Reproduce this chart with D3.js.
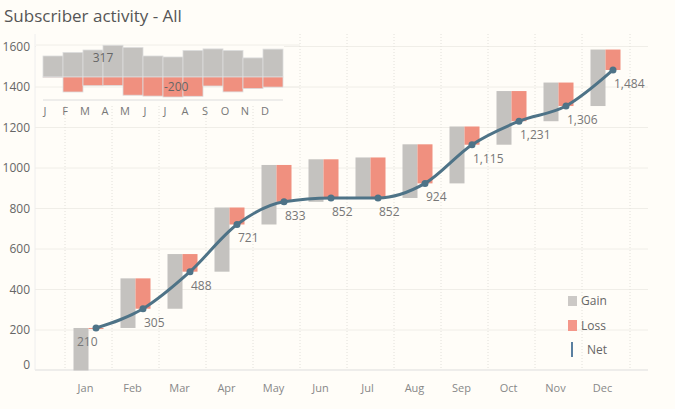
<!DOCTYPE html>
<html><head><meta charset="utf-8">
<script src="https://cdn.jsdelivr.net/npm/d3@7"></script>
<style>body{margin:0;background:#fffdf8}text{font-family:"Open Sans",Lato,sans-serif}</style>
</head><body><svg id="c" width="675" height="409"></svg>
<script>
const months=["Jan","Feb","Mar","Apr","May","Jun","Jul","Aug","Sep","Oct","Nov","Dec"];
const initials=["J","F","M","A","M","J","J","A","S","O","N","D"];
const gains=[210,245,270,317,294,210,200,265,281,265,191,279];
const losses=[2,150,87,84,182,191,200,193,90,149,116,101];
const net=[210,305,488,721,833,852,852,924,1115,1231,1306,1484];
const yTicks=[0,200,400,600,800,1000,1200,1400,1600];
const insetTicks=[1400,1600];

const svg=d3.select("#c");
svg.append("rect").attr("width",675).attr("height",409).attr("fill","#fffdf8");
svg.append("text").attr("x",4).attr("y",22).attr("font-size",17).attr("fill","#555").text("Subscriber activity  - All");

const x=d3.scaleBand().domain(months).range([65,629]).padding(0);
const y=d3.scaleLinear().domain([0,1600]).range([370.5,46.5]);
const g=svg.append("g");
// horizontal grid
g.selectAll(".hg").data(yTicks.filter(d=>d>0)).join("line").attr("x1",35).attr("x2",648)
 .attr("y1",d=>y(d)).attr("y2",d=>y(d)).attr("stroke","#f0eee8");
// vertical dotted grid
g.selectAll(".vg").data(months.concat(["end"])).join("line")
 .attr("x1",d=>d==="end"?630:x(d)).attr("x2",d=>d==="end"?630:x(d)).attr("y1",34).attr("y2",370)
 .attr("stroke","#e2e0da").attr("stroke-dasharray","1,2");
g.append("line").attr("x1",35).attr("x2",648).attr("y1",370).attr("y2",370).attr("stroke","#ddd");
g.append("line").attr("x1",35).attr("x2",35).attr("y1",34).attr("y2",370).attr("stroke","#eee");
// y labels
g.selectAll(".yl").data(yTicks).join("text").attr("x",30).attr("y",d=>d===0?y(d)-6:y(d)).attr("dy","0.35em")
 .attr("text-anchor","end").attr("font-size",12).attr("fill","#666").text(d=>d);
// month labels
g.selectAll(".ml").data(months).join("text").attr("x",d=>x(d)+x.bandwidth()/2-3).attr("y",392)
 .attr("text-anchor","middle").attr("font-size",11).attr("fill","#888").text(d=>d);

const bw=15;
months.forEach((m,i)=>{
  const c=x(m)+x.bandwidth()/2;
  const prev=i===0?0:net[i-1];
  const top=prev+gains[i];
  g.append("rect").attr("x",c-bw).attr("width",bw).attr("y",y(top)).attr("height",y(prev)-y(top)).attr("fill","#c4c2bf");
  g.append("rect").attr("x",c).attr("width",bw).attr("y",y(top)).attr("height",Math.max(1,y(net[i])-y(top))).attr("fill","#f0907f");
});
const px=m=>x(m)+x.bandwidth()/2+bw/2;
const line=d3.line().x((d,i)=>px(months[i])).y(d=>y(d)).curve(d3.curveMonotoneX);
g.append("path").attr("d",line(net)).attr("fill","none").attr("stroke","#4e7387").attr("stroke-width",3);
g.selectAll(".pt").data(net).join("circle").attr("cx",(d,i)=>px(months[i])).attr("cy",d=>y(d)).attr("r",3.5).attr("fill","#4e7387");
g.selectAll(".nl").data(net).join("text").attr("x",(d,i)=>i===0?px(months[i])-19:px(months[i])+1)
 .attr("y",d=>y(d)+18).attr("font-size",12).attr("fill","#777").text(d=>d3.format(",")(d));

// legend
const lg=svg.append("g");
lg.append("rect").attr("x",568).attr("y",296).attr("width",9).attr("height",10).attr("fill","#ccc9c6");
lg.append("text").attr("x",581).attr("y",305).attr("font-size",12).attr("fill","#666").text("Gain");
lg.append("rect").attr("x",568).attr("y",320).attr("width",9).attr("height",11).attr("fill","#f4978a");
lg.append("text").attr("x",581).attr("y",330).attr("font-size",12).attr("fill","#666").text("Loss");
lg.append("line").attr("x1",572).attr("x2",572).attr("y1",342).attr("y2",357).attr("stroke","#5a7fa0").attr("stroke-width",2);
lg.append("text").attr("x",587).attr("y",354).attr("font-size",12).attr("fill","#666").text("Net");

// inset
const ix=d3.scaleBand().domain(d3.range(12)).range([43,283]);
const base=77, k=0.1;
const ins=svg.append("g");
ins.append("rect").attr("x",36).attr("y",34).attr("width",248).attr("height",72).attr("fill","#fffdf8");
ins.selectAll(".ig").data(insetTicks).join("line").attr("x1",36).attr("x2",300).attr("y1",d=>d===1600?45:87).attr("y2",d=>d===1600?45:87).attr("stroke","#f0eee8");
ins.selectAll(".ig2").data(d3.range(12)).join("rect").attr("x",i=>ix(i)).attr("width",ix.bandwidth())
 .attr("y",i=>base-gains[i]*k).attr("height",i=>gains[i]*k).attr("fill","#c4c2bf").attr("stroke","#ddd").attr("stroke-width",0.8);
ins.selectAll(".il").data(d3.range(12)).join("rect").attr("x",i=>ix(i)).attr("width",ix.bandwidth())
 .attr("y",base).attr("height",i=>losses[i]*k).attr("fill","#f0907f").attr("stroke","#ddd").attr("stroke-width",0.8);
ins.append("line").attr("x1",43).attr("x2",283).attr("y1",100).attr("y2",100).attr("stroke","#ddd");
ins.selectAll(".it").data(initials).join("text").attr("x",(d,i)=>ix(i)+ix.bandwidth()/2-8).attr("y",115)
 .attr("text-anchor","middle").attr("font-size",11).attr("fill","#777").text(d=>d);
const maxI=d3.maxIndex(gains), minI=d3.maxIndex(losses.map((d,i)=>i===6?d+1:d));
ins.append("text").attr("x",ix(maxI)).attr("y",base-15).attr("text-anchor","middle").attr("font-size",12).attr("fill","#666").text(gains[maxI]);
ins.append("text").attr("x",ix(minI)+1).attr("y",base+14).attr("font-size",12).attr("fill","#666").text("-"+losses[minI]);
</script></body></html>
